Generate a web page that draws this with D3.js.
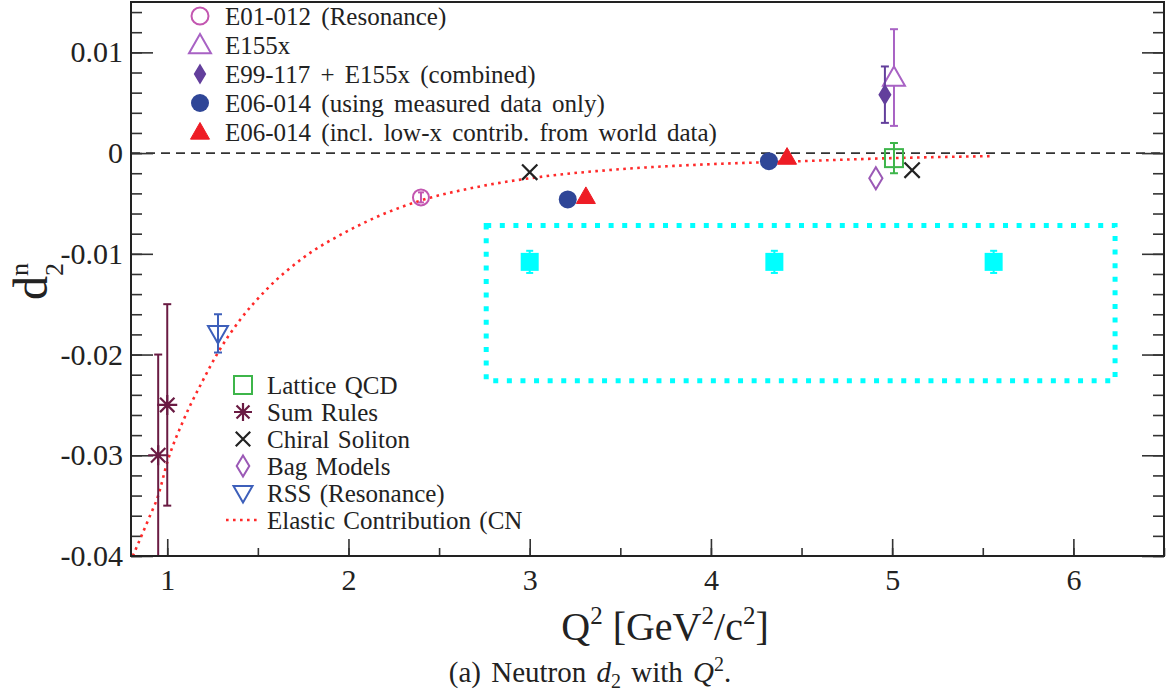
<!DOCTYPE html>
<html lang="en">
<head>
<meta charset="utf-8">
<script src="https://cdnjs.cloudflare.com/ajax/libs/d3/7.8.5/d3.min.js"></script>
<style>
  body { margin: 0; background: #fff; }
</style>
</head>
<body>
<div id="chart"></div>
<script>
// --- data (Q2 in GeV^2, d2 values) ---
var e01 = [{q2: 2.40, d2: -0.0044, err: 0.0005}];
var e155x = [{q2: 5.01, d2: 0.0075, err: 0.0048}];
var e99 = [{q2: 4.96, d2: 0.0058, err: 0.0028}];
var e06Measured = [{q2: 3.21, d2: -0.0046}, {q2: 4.32, d2: -0.0008}];
var e06World = [{q2: 3.31, d2: -0.0043}, {q2: 4.42, d2: -0.0004}];
var latticeQCD = [{q2: 5.01, d2: -0.0005, err: 0.0015}];
var sumRules = [{q2: 0.95, d2: -0.030, err: 0.010}, {q2: 1.00, d2: -0.025, err: 0.010}];
var chiral = [{q2: 3.00, d2: -0.0019}, {q2: 5.11, d2: -0.0017}];
var bagModels = [{q2: 4.91, d2: -0.0025}];
var rss = [{q2: 1.28, d2: -0.0179, err: 0.0019}];
var projected = [{q2: 3.00, d2: -0.0108, err: 0.0011}, {q2: 4.35, d2: -0.0108, err: 0.0011}, {q2: 5.56, d2: -0.0108, err: 0.0011}];
var projBox = {q2: [2.76, 6.23], d2: [-0.0226, -0.0072]};

var elasticQ2 = [0.81, 0.90, 0.95, 1.00, 1.09, 1.19, 1.28, 1.40, 1.55, 1.75, 2.00, 2.20, 2.40, 2.70, 3.00, 3.50, 4.00, 4.50, 5.00, 5.55];
var elasticD2 = [-0.0400, -0.0362, -0.0340, -0.0307, -0.0265, -0.0228, -0.0198, -0.0166, -0.0135, -0.0104, -0.0077, -0.0060, -0.0047, -0.0034, -0.0025, -0.0016, -0.0011, -0.0008, -0.0005, -0.0003];

var yMajor = [-0.04, -0.03, -0.02, -0.01, 0, 0.01];
var yLabels = ["-0.04", "-0.03", "-0.02", "-0.01", "0", "0.01"];
var xMajor = [1, 2, 3, 4, 5, 6];

var colors = {
  e01: "#c356b0", e155x: "#a862c4", e99: "#633f9c", blue: "#2f4697", red: "#ee1c25",
  lattice: "#3db54a", sum: "#6a1b43", chiral: "#222", bag: "#9b59b6", rss: "#3d5fba",
  elastic: "#ff2a2a", cyan: "#00ffff"
};
var SERIF = "'Liberation Serif', 'Times New Roman', Times, serif";

var W = 1174, H = 691;
var svg = d3.select("#chart").append("svg").attr("width", W).attr("height", H);

var x = d3.scaleLinear().domain([0.8, 6.5]).range([131, 1164]);
var y = d3.scaleLinear().domain([-0.04, 0.015]).range([556, 2]);

// axes (ticks pointing inward)
var minorY = d3.range(-0.04, 0.0141, 0.002);
var minorX = d3.range(1, 6.51, 0.5);

svg.append("g").attr("transform", "translate(" + x.range()[0] + ",0)")
  .call(d3.axisLeft(y).tickValues(minorY).tickSize(-11).tickFormat(""))
  .call(function(g){ g.select(".domain").remove(); });
svg.append("g").attr("transform", "translate(" + x.range()[0] + ",0)")
  .call(d3.axisLeft(y).tickValues(yMajor).tickSize(-22).tickPadding(8)
    .tickFormat(function(d, i){ return yLabels[i]; }))
  .call(function(g){
    g.select(".domain").remove();
    g.selectAll("text").style("font-size", "30px");
  });
svg.append("g").attr("transform", "translate(" + x.range()[1] + ",0)")
  .call(d3.axisRight(y).tickValues(minorY).tickSize(-11).tickFormat(""))
  .call(function(g){ g.select(".domain").remove(); });
svg.append("g").attr("transform", "translate(" + x.range()[1] + ",0)")
  .call(d3.axisRight(y).tickValues(yMajor).tickSize(-22).tickFormat(""))
  .call(function(g){ g.select(".domain").remove(); });
svg.append("g").attr("transform", "translate(0," + y.range()[0] + ")")
  .call(d3.axisBottom(x).tickValues(minorX).tickSize(-8).tickFormat(""))
  .call(function(g){ g.select(".domain").remove(); });
svg.append("g").attr("transform", "translate(0," + y.range()[0] + ")")
  .call(d3.axisBottom(x).tickValues(xMajor).tickSize(-17).tickPadding(13).tickFormat(d3.format("d")))
  .call(function(g){
    g.select(".domain").remove();
    g.selectAll("text").style("font-size", "30px");
  });
svg.selectAll(".tick line").attr("stroke", "#333").attr("stroke-width", 1.6);

svg.append("defs").append("clipPath").attr("id", "plotclip")
  .append("rect").attr("x", 131).attr("y", 2).attr("width", 1033).attr("height", 554);

var plot = svg.append("g").attr("clip-path", "url(#plotclip)");

// zero line
plot.append("line")
  .attr("x1", x(0.8)).attr("x2", x(6.5)).attr("y1", y(0)).attr("y2", y(0))
  .attr("stroke", "#333").attr("stroke-width", 1.8).attr("stroke-dasharray", "9,6");

// elastic contribution curve
var elastic = elasticQ2.map(function(q, i){ return [q, elasticD2[i]]; });
plot.append("path")
  .datum(elastic)
  .attr("d", d3.line().curve(d3.curveMonotoneX).x(function(d){ return x(d[0]); }).y(function(d){ return y(d[1]); }))
  .attr("fill", "none").attr("stroke", colors.elastic).attr("stroke-width", 2.6).attr("stroke-dasharray", "2.6,4.4");

// projected box
plot.append("rect")
  .attr("x", x(projBox.q2[0])).attr("y", y(projBox.d2[1]))
  .attr("width", x(projBox.q2[1]) - x(projBox.q2[0]))
  .attr("height", y(projBox.d2[0]) - y(projBox.d2[1]))
  .attr("fill", "none").attr("stroke", colors.cyan).attr("stroke-width", 5).attr("stroke-dasharray", "5,8.6");

// marker drawing
function marker(g, type, cx, cy, s, color) {
  var h = s / 2;
  if (type === "circle") {
    g.append("circle").attr("cx", cx).attr("cy", cy).attr("r", h - 1).attr("fill", "none").attr("stroke", color).attr("stroke-width", 2);
  } else if (type === "dot") {
    g.append("circle").attr("cx", cx).attr("cy", cy).attr("r", h).attr("fill", color);
  } else if (type === "tri" || type === "ftri") {
    g.append("path").attr("d", "M" + cx + "," + (cy - h) + "L" + (cx + h) + "," + (cy + h * 0.75) + "L" + (cx - h) + "," + (cy + h * 0.75) + "Z")
      .attr("fill", type === "ftri" ? color : "#fff").attr("stroke", color).attr("stroke-width", type === "ftri" ? 1 : 2);
  } else if (type === "dtri") {
    g.append("path").attr("d", "M" + cx + "," + (cy + h) + "L" + (cx + h) + "," + (cy - h * 0.75) + "L" + (cx - h) + "," + (cy - h * 0.75) + "Z")
      .attr("fill", "none").attr("stroke", color).attr("stroke-width", 2);
  } else if (type === "diamond" || type === "fdiamond") {
    var w = h * 0.6;
    g.append("path").attr("d", "M" + cx + "," + (cy - h) + "L" + (cx + w) + "," + cy + "L" + cx + "," + (cy + h) + "L" + (cx - w) + "," + cy + "Z")
      .attr("fill", type === "fdiamond" ? color : "none").attr("stroke", color).attr("stroke-width", 2);
  } else if (type === "square") {
    g.append("rect").attr("x", cx - h).attr("y", cy - h).attr("width", s).attr("height", s)
      .attr("fill", "none").attr("stroke", color).attr("stroke-width", 2);
  } else if (type === "fsquare") {
    g.append("rect").attr("x", cx - h).attr("y", cy - h).attr("width", s).attr("height", s).attr("fill", color);
  } else if (type === "cross") {
    var c = h * 0.85;
    g.append("path").attr("d", "M" + (cx - c) + "," + (cy - c) + "L" + (cx + c) + "," + (cy + c) + "M" + (cx - c) + "," + (cy + c) + "L" + (cx + c) + "," + (cy - c))
      .attr("stroke", color).attr("stroke-width", 2.2);
  } else if (type === "star") {
    var d = h * 0.72;
    g.append("path").attr("d", "M" + (cx - h) + "," + cy + "L" + (cx + h) + "," + cy + "M" + cx + "," + (cy - h) + "L" + cx + "," + (cy + h) +
      "M" + (cx - d) + "," + (cy - d) + "L" + (cx + d) + "," + (cy + d) + "M" + (cx - d) + "," + (cy + d) + "L" + (cx + d) + "," + (cy - d))
      .attr("stroke", color).attr("stroke-width", 2.2);
  }
}

function errorBars(data, color, cap) {
  data.forEach(function(p){
    if (!p.err) return;
    var cx = x(p.q2), y1 = y(p.d2 + p.err), y2 = y(p.d2 - p.err);
    plot.append("line").attr("x1", cx).attr("x2", cx).attr("y1", y1).attr("y2", y2).attr("stroke", color).attr("stroke-width", 2);
    [y1, y2].forEach(function(yy){
      plot.append("line").attr("x1", cx - cap).attr("x2", cx + cap).attr("y1", yy).attr("y2", yy).attr("stroke", color).attr("stroke-width", 2);
    });
  });
}

function series(data, type, s, color, cap) {
  errorBars(data, color, cap || 3.5);
  data.forEach(function(p){ marker(plot, type, x(p.q2), y(p.d2), s, color); });
}

series(projected, "fsquare", 18, colors.cyan, 0);
series(sumRules, "star", 20, colors.sum, 4);
series(rss, "dtri", 20, colors.rss, 4);
series(e01, "circle", 18, colors.e01, 3);
series(chiral, "cross", 18, colors.chiral);
series(bagModels, "diamond", 22, colors.bag);
series(latticeQCD, "square", 18, colors.lattice, 4);
series(e155x, "tri", 22, colors.e155x, 4);
series(e99, "fdiamond", 18, colors.e99, 4);
series(e06Measured, "dot", 18, colors.blue);
series(e06World, "ftri", 19, colors.red);

// frame
svg.append("rect").attr("x", 131).attr("y", 2).attr("width", 1033).attr("height", 554)
  .attr("fill", "none").attr("stroke", "#222").attr("stroke-width", 2);

// top legend
var legTop = [
  {type: "circle", s: 19, color: colors.e01, label: "E01-012 (Resonance)"},
  {type: "tri", s: 22, color: colors.e155x, label: "E155x"},
  {type: "fdiamond", s: 17, color: colors.e99, label: "E99-117 + E155x (combined)"},
  {type: "dot", s: 18, color: colors.blue, label: "E06-014 (using measured data only)"},
  {type: "ftri", s: 19, color: colors.red, label: "E06-014 (incl. low-x contrib. from world data)"}
];
legTop.forEach(function(l, i){
  var cy = 16 + i * 29;
  marker(svg, l.type, 200, cy, l.s, l.color);
  svg.append("text").attr("x", 225).attr("y", cy).attr("dy", "0.34em")
    .style("font-size", "25px").style("word-spacing", "4px").text(l.label);
});

// bottom legend
var legBottom = [
  {type: "square", s: 18, color: colors.lattice, label: "Lattice QCD"},
  {type: "star", s: 18, color: colors.sum, label: "Sum Rules"},
  {type: "cross", s: 17, color: colors.chiral, label: "Chiral Soliton"},
  {type: "diamond", s: 21, color: colors.bag, label: "Bag Models"},
  {type: "dtri", s: 19, color: colors.rss, label: "RSS (Resonance)"},
  {type: "line", color: colors.elastic, label: "Elastic Contribution (CN"}
];
legBottom.forEach(function(l, i){
  var cy = 385 + i * 27;
  if (l.type === "line") {
    svg.append("line").attr("x1", 226).attr("x2", 261).attr("y1", cy).attr("y2", cy)
      .attr("stroke", l.color).attr("stroke-width", 2.6).attr("stroke-dasharray", "2.6,4.4");
  } else {
    marker(svg, l.type, 243, cy, l.s, l.color);
  }
  svg.append("text").attr("x", 267).attr("y", cy).attr("dy", "0.34em")
    .style("font-size", "25px").style("word-spacing", "2px").text(l.label);
});

// axis titles
var yt = svg.append("text").attr("transform", "translate(47,300) rotate(-90)").style("font-size", "48px");
yt.append("tspan").text("d");
yt.append("tspan").attr("dy", -19).style("font-size", "26px").text("n");
yt.append("tspan").attr("dx", -13).attr("dy", 35).style("font-size", "26px").text("2");

var xt = svg.append("text").attr("x", 665).attr("y", 640).attr("text-anchor", "middle").style("font-size", "40px");
xt.append("tspan").text("Q");
xt.append("tspan").attr("dy", -16).style("font-size", "25px").text("2");
xt.append("tspan").attr("dy", 16).text(" [GeV");
xt.append("tspan").attr("dy", -16).style("font-size", "25px").text("2");
xt.append("tspan").attr("dy", 16).text("/c");
xt.append("tspan").attr("dy", -16).style("font-size", "25px").text("2");
xt.append("tspan").attr("dy", 16).text("]");

var cap = svg.append("text").attr("x", 590).attr("y", 682).attr("text-anchor", "middle")
  .style("font-size", "29px").style("word-spacing", "3px");
cap.append("tspan").text("(a) Neutron ");
cap.append("tspan").style("font-style", "italic").text("d");
cap.append("tspan").attr("dy", 6).style("font-size", "20px").text("2");
cap.append("tspan").attr("dy", -6).text(" with ");
cap.append("tspan").style("font-style", "italic").text("Q");
cap.append("tspan").attr("dy", -11).style("font-size", "20px").text("2");
cap.append("tspan").attr("dy", 11).text(".");

// serif everywhere, like the original plot
svg.selectAll("g").attr("font-family", null);
svg.selectAll("text").style("font-family", SERIF).attr("fill", "#222");
</script>
</body>
</html>
